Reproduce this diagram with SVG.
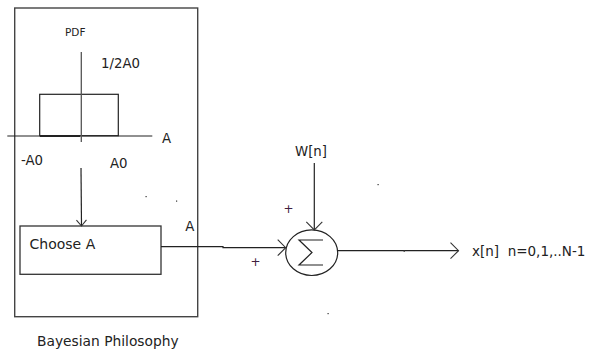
<svg xmlns="http://www.w3.org/2000/svg" width="601" height="351" viewBox="0 0 601 351">
<style>
  text { font-family: "DejaVu Sans", Verdana, sans-serif; fill: #222; }
  .ln { fill: none; stroke: #222; stroke-width: 1.2; }
  .box { fill: none; stroke: #444; stroke-width: 1.4; }
  .dot { fill: #333; }
  .pre { white-space: pre; }
</style>
<defs>
  <marker id="chev" markerUnits="userSpaceOnUse" markerWidth="20" markerHeight="20" refX="10" refY="10" orient="auto">
    <path d="M2,2 L10,10 L2,18" fill="none" stroke="#333" stroke-width="1.1"/>
  </marker>
  <marker id="chevS" markerUnits="userSpaceOnUse" markerWidth="20" markerHeight="20" refX="10" refY="10" orient="auto">
    <path d="M4,5 L10,10 L4,15" fill="none" stroke="#333" stroke-width="1.1"/>
  </marker>
</defs>

<g id="bayesian-box">
  <rect class="box" x="14.7" y="8" width="183" height="308.7"/>
  <text x="37" y="346" font-size="13.8">Bayesian Philosophy</text>
</g>

<g id="pdf-plot">
  <text x="65" y="35.7" font-size="10.5">PDF</text>
  <text x="101" y="68" font-size="13.3">1/2A0</text>
  <rect x="39.7" y="94.3" width="78.6" height="41.4" fill="none" stroke="#222" stroke-width="1.2"/>
  <line x1="40" y1="136" x2="80" y2="136" stroke="#222" stroke-width="2"/>
  <line class="ln" x1="7.3" y1="136" x2="152.3" y2="136"/>
  <line x1="81.3" y1="52" x2="81.3" y2="142" stroke="#555" stroke-width="1.3"/>
  <text x="162" y="143" font-size="13.3">A</text>
  <text x="21" y="165" font-size="13.3">-A0</text>
  <text x="110" y="168" font-size="13.3">A0</text>
</g>

<g id="choose-a">
  <rect x="20" y="226" width="141" height="48.3" fill="none" stroke="#333" stroke-width="1.3"/>
  <text x="29.5" y="249.3" font-size="14">Choose A</text>
</g>

<g id="summer">
  <ellipse cx="311.7" cy="252.7" rx="26" ry="22.8" fill="none" stroke="#222" stroke-width="1.2"/>
  <path d="M323,240 L299,240 L312,252.5 L299,265 L323,265" fill="none" stroke="#222" stroke-width="1.2"/>
</g>

<g id="labels">
  <text x="185.3" y="231" font-size="13.3">A</text>
  <text x="295" y="156" font-size="13.3">W[n]</text>
  <text x="283.5" y="213" font-size="12" style="fill:#402040">+</text>
  <text x="250.5" y="265.5" font-size="12" style="fill:#402040">+</text>
  <text class="pre" x="472" y="256" font-size="13.5">x[n]  n=0,1,..N-1</text>
</g>

<g id="connectors">
  <line class="ln" x1="81" y1="168" x2="81.5" y2="226" marker-end="url(#chevS)"/>
  <path class="ln" d="M161,246.7 L223,246.7 L223,247.7 L285.7,247.7" marker-end="url(#chev)"/>
  <line class="ln" x1="314.3" y1="163" x2="314.3" y2="229.9" marker-end="url(#chev)"/>
  <line class="ln" x1="337.7" y1="250.7" x2="458.5" y2="250.7" marker-end="url(#chev)"/>
</g>

<g id="specks">
  <rect class="dot" x="145.5" y="196" width="1.2" height="1.2"/>
  <rect class="dot" x="176" y="200.5" width="1.2" height="1.2"/>
  <rect class="dot" x="377.5" y="184" width="1.2" height="1.2"/>
  <rect class="dot" x="403.5" y="250.2" width="1.5" height="1.5"/>
  <rect class="dot" x="327.5" y="313" width="1.2" height="1.2"/>
</g>
</svg>
